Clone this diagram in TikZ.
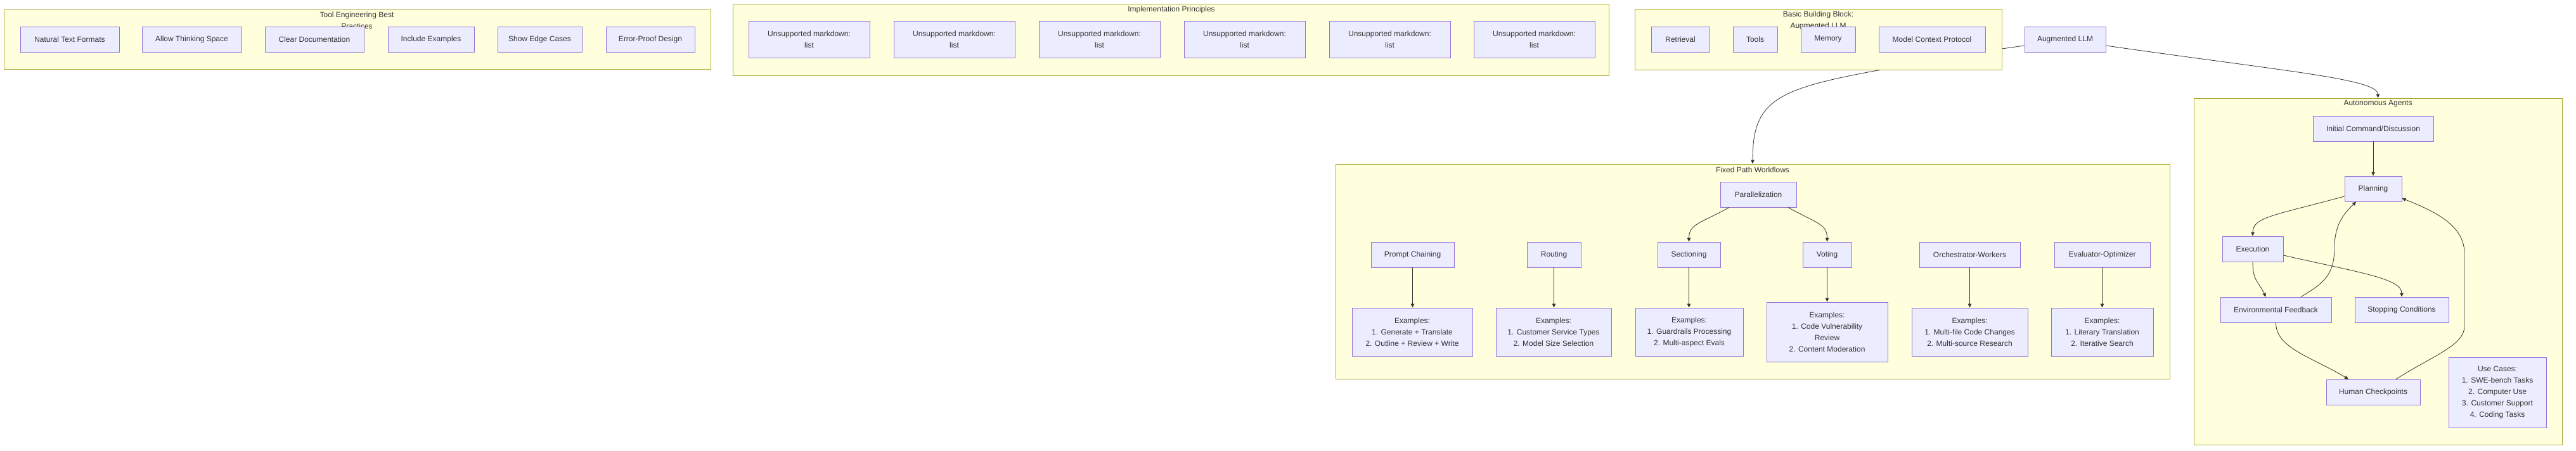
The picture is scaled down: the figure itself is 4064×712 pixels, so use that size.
\documentclass[tikz,border=0pt]{standalone}
\usepackage{fontspec}
\setmainfont{Liberation Sans}
\usetikzlibrary{arrows.meta,calc}
\definecolor{nodefill}{HTML}{ECECFF}
\definecolor{nodeline}{HTML}{9370DB}
\definecolor{clfill}{HTML}{FFFFDE}
\definecolor{clline}{HTML}{AAAA33}
\definecolor{txt}{HTML}{333333}
\definecolor{edgec}{HTML}{333333}
\newcommand{\mkbox}[7][box]{\node[#1, minimum width={#4-#2}, minimum height={#5-#3}] (#6) at ({(#2+#4)/2},{(#3+#5)/2}) {#7};}
\begin{document}
\begin{tikzpicture}[x=1pt,y=-1pt,
  box/.style={draw=nodeline, fill=nodefill, line width=0.9pt, inner sep=0pt, text=txt, font=\fontsize{12}{18}\selectfont, align=center},
  cluster/.style={draw=clline, fill=clfill, line width=0.9pt, inner sep=0pt},
  ctitle/.style={text=txt, font=\fontsize{12}{18}\selectfont, align=center, inner sep=0pt},
  edge/.style={draw=edgec, line width=0.8pt, -{Triangle[length=6pt,width=5.5pt]}},
  plain/.style={draw=edgec, line width=0.8pt}]
\useasboundingbox[fill=white] (0,0) rectangle (4064,712);
% clusters
\mkbox[cluster]{6}{15}{1121}{109}{tool}{}
\mkbox[cluster]{1156}{6}{2538}{119}{impl}{}
\mkbox[cluster]{2579}{14}{3158}{110}{bb}{}
\mkbox[cluster]{2107}{259}{3423}{598}{fp}{}
\mkbox[cluster]{3461}{155}{4042}{702}{aa}{}
% titles
\node[ctitle] (toolT) at (563,32) {Tool Engineering Best\\Practices};
\node[ctitle] (implT) at (1848,15) {Implementation Principles};
\node[ctitle] (bbT) at (2868.5,32) {Basic Building Block:\\Augmented LLM};
\node[ctitle] (fpT) at (2765,268) {Fixed Path Workflows};
\node[ctitle] (aaT) at (3751.5,164) {Autonomous Agents};
% tool engineering
\mkbox{32}{42}{188}{82}{tA}{Natural Text Formats}
\mkbox{224}{42}{381}{82}{tB}{Allow Thinking Space}
\mkbox{418}{42}{574}{82}{tC}{Clear Documentation}
\mkbox{612}{42}{748}{82}{tD}{Include Examples}
\mkbox{785}{42}{918}{82}{tE}{Show Edge Cases}
\mkbox{956}{42}{1096}{82}{tF}{Error-Proof Design}
% implementation principles
\mkbox{1181}{33}{1372}{91}{iA}{Unsupported markdown:\\list}
\mkbox{1410}{33}{1601}{91}{iB}{Unsupported markdown:\\list}
\mkbox{1639}{33}{1830}{91}{iC}{Unsupported markdown:\\list}
\mkbox{1868}{33}{2059}{91}{iD}{Unsupported markdown:\\list}
\mkbox{2097}{33}{2288}{91}{iE}{Unsupported markdown:\\list}
\mkbox{2325}{33}{2516}{91}{iF}{Unsupported markdown:\\list}
% basic building block
\mkbox{2605}{42}{2697}{82}{ret}{Retrieval}
\mkbox{2734}{42}{2804}{82}{tls}{Tools}
\mkbox{2841}{42}{2927}{82}{mem}{Memory}
\mkbox{2964}{42}{3132}{82}{mcp}{Model Context Protocol}
\mkbox{3194}{42}{3322}{82}{aug}{Augmented LLM}
% fixed path workflows
\mkbox{2714}{287}{2834}{327}{par}{Parallelization}
\mkbox{2163}{382}{2294}{422}{pc}{Prompt Chaining}
\mkbox{2409}{382}{2494}{422}{rt}{Routing}
\mkbox{2615}{382}{2714}{422}{sec}{Sectioning}
\mkbox{2844}{382}{2921}{422}{vot}{Voting}
\mkbox{3028}{382}{3187}{422}{orc}{Orchestrator-Workers}
\mkbox{3241}{382}{3392}{422}{evo}{Evaluator-Optimizer}
\mkbox{2133}{486}{2323}{562}{pcx}{Examples:\\1. Generate + Translate\\2. Outline + Review + Write}
\mkbox{2360}{486}{2542}{562}{rtx}{Examples:\\1. Customer Service Types\\2. Model Size Selection}
\mkbox{2580}{486}{2750}{562}{secx}{Examples:\\1. Guardrails Processing\\2. Multi-aspect Evals}
\mkbox{2787}{477}{2978}{571}{votx}{Examples:\\1. Code Vulnerability\\Review\\2. Content Moderation}
\mkbox{3016}{486}{3199}{562}{orcx}{Examples:\\1. Multi-file Code Changes\\2. Multi-source Research}
\mkbox{3236}{486}{3397}{562}{evox}{Examples:\\1. Literary Translation\\2. Iterative Search}
% autonomous agents
\mkbox{3649}{183}{3839}{223}{ini}{Initial Command/Discussion}
\mkbox{3699}{278}{3789}{318}{pla}{Planning}
\mkbox{3506}{373}{3602}{413}{exe}{Execution}
\mkbox{3503}{469}{3678}{509}{env}{Environmental Feedback}
\mkbox{3715}{469}{3863}{509}{stp}{Stopping Conditions}
\mkbox{3670}{599}{3818}{639}{hum}{Human Checkpoints}
\mkbox{3863}{564}{4017}{675}{use}{Use Cases:\\1. SWE-bench Tasks\\2. Computer Use\\3. Customer Support\\4. Coding Tasks}
% waypoints
\coordinate (w1) at (3683,390);
\coordinate (w2a) at (3888,515);
\coordinate (w2b) at (3888,400);
% edges
\draw[plain] ($(bb.east)+(0,15)$) -- ($(aug.west)+(0,10)$);
\draw[edge] ($(bb.south)+(97.5,0)$) .. controls +(-166,30) and +(0,-99) .. (fp.north);
\draw[edge] ($(aug.east)+(0,10)$) .. controls +(278,40) and +(0,-30) .. (aa.north);
\draw[edge] ($(par.south)+(-46,0)$) .. controls +(-45,25) and +(0,-28) .. (sec.north);
\draw[edge] ($(par.south)+(47,0)$) .. controls +(45,25) and +(0,-28) .. (vot.north);
\draw[edge] (pc.south) -- (pc.south |- pcx.north);
\draw[edge] (rt.south) -- (rt.south |- rtx.north);
\draw[edge] (sec.south) -- (sec.south |- secx.north);
\draw[edge] (vot.south) -- (vot.south |- votx.north);
\draw[edge] (orc.south) -- (orc.south |- orcx.north);
\draw[edge] (evo.south) -- (evo.south |- evox.north);
\draw[edge] (ini.south) -- (pla.north);
\draw[edge] ($(pla.west)+(0,12)$) .. controls +(-110,30) and +(0,-30) .. (exe.north);
\draw[edge] (exe.south) .. controls +(0,30) and +(-12,-25) .. ($(env.north)+(-16,0)$);
\draw[edge] ($(exe.east)+(0,10)$) .. controls +(118,27) and +(0,-29) .. (stp.north);
\draw[edge] ($(env.north)+(39.5,0)$) .. controls +(35,-21) and +(0,45) .. (w1) .. controls +(0,-40) and +(-14,14) .. ($(pla.south)+(-27,0)$);
\draw[edge] (env.south) .. controls +(0,40) and +(-60,-36) .. ($(hum.north)+(-39,0)$);
\draw[edge] ($(hum.north)+(36,0)$) .. controls +(60,-38) and +(0,30) .. (w2a) -- (w2b) .. controls +(0,-45) and +(50,20) .. ($(pla.east)+(0,15)$);
\end{tikzpicture}
\end{document}
